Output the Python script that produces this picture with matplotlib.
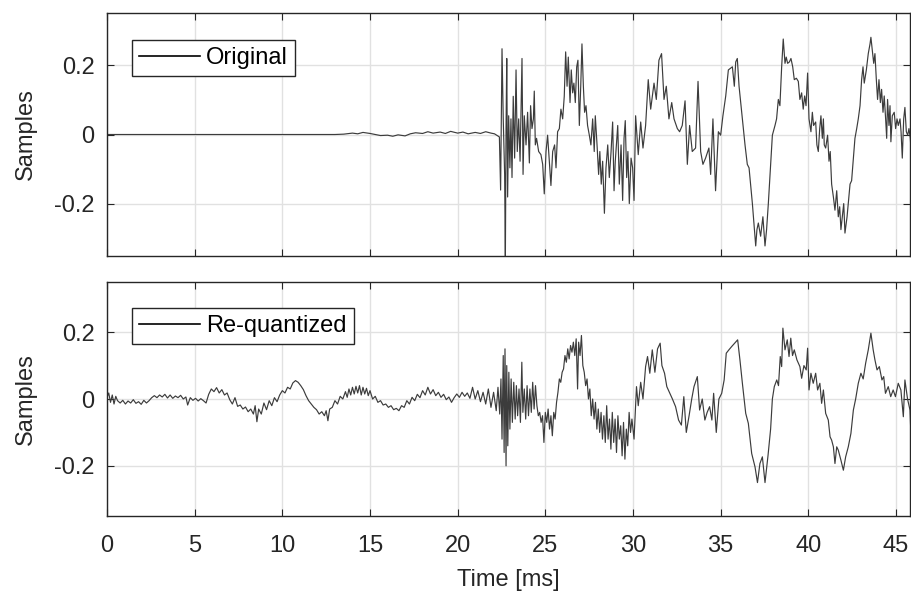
import numpy as np
import matplotlib
matplotlib.use("Agg")
import matplotlib.pyplot as plt

# ---------------- data ----------------
t_orig = [0.0, 13.0, 13.5, 14.0, 14.3, 14.6, 15.0, 15.3, 15.6, 16.0, 16.3, 16.6, 17.0, 17.3,
          17.6, 18.0, 18.3, 18.6, 19.0, 19.3, 19.6, 20.0, 20.3, 20.6, 21.0, 21.3, 21.6, 21.9,
          22.1, 22.38, 22.45, 22.53, 22.6, 22.68, 22.72, 22.76, 22.8, 22.85, 22.91, 22.98,
          23.04, 23.1, 23.17, 23.25, 23.33, 23.4, 23.48, 23.56, 23.67, 23.73, 23.8, 23.9,
          23.99, 24.09, 24.16, 24.24, 24.32, 24.37, 24.43, 24.5, 24.62, 24.75, 24.85, 24.94,
          25.04, 25.13, 25.23, 25.32, 25.42, 25.53, 25.61, 25.7, 25.8, 25.89, 25.99, 26.08,
          26.16, 26.24, 26.31, 26.41, 26.48, 26.56, 26.63, 26.71, 26.79, 26.86, 26.94, 27.02,
          27.09, 27.17, 27.24, 27.32, 27.41, 27.51, 27.6, 27.7, 27.79, 27.85, 27.95, 28.04,
          28.11, 28.19, 28.27, 28.37, 28.46, 28.56, 28.65, 28.75, 28.84, 28.92, 28.99, 29.13,
          29.22, 29.32, 29.41, 29.49, 29.56, 29.64, 29.71, 29.79, 29.89, 29.98,
          30.06, 30.15, 30.3, 30.44, 30.57, 30.72, 30.87, 31.01, 31.2, 31.33, 31.48, 31.63,
          31.77, 31.9, 32.05, 32.21, 32.34, 32.53, 32.66, 32.81, 32.97, 33.1, 33.23, 33.38,
          33.57, 33.71, 33.86, 33.99, 34.14, 34.33, 34.43, 34.56, 34.71, 34.87, 35.0, 35.13,
          35.29, 35.44, 35.67, 35.78, 35.86, 35.95, 36.05, 36.2, 36.39, 36.52, 36.62, 36.81,
          37.0, 37.07, 37.15, 37.28, 37.41, 37.53, 37.62, 37.72, 37.83, 37.95,
          38.1, 38.19, 38.29, 38.38, 38.48, 38.57, 38.67, 38.74, 38.82, 38.92, 39.01, 39.11,
          39.2, 39.32, 39.43, 39.52, 39.62, 39.71, 39.79, 39.87, 39.96, 40.04, 40.15, 40.23,
          40.3, 40.42, 40.49, 40.57, 40.65, 40.72, 40.8, 40.86, 40.91, 40.99, 41.1, 41.18,
          41.25, 41.33, 41.43, 41.52, 41.62, 41.71, 41.79, 41.86, 41.94, 42.02, 42.09, 42.21,
          42.38, 42.47, 42.57, 42.66, 42.76, 42.85, 42.95, 43.04, 43.12, 43.19, 43.31, 43.42,
          43.52, 43.57, 43.65, 43.73, 43.8, 43.88, 43.95, 44.03, 44.11, 44.18, 44.26, 44.33,
          44.41, 44.47, 44.52, 44.6, 44.66, 44.71, 44.79, 44.9, 44.98, 45.06, 45.13, 45.23,
          45.29, 45.36, 45.44, 45.51, 45.59, 45.67, 45.74, 45.82, 45.88, 45.93]
y_orig = [0.0, 0.0, 0.001, 0.004, 0.002, 0.006, 0.003, 0.0, -0.003, -0.002, -0.005, -0.001, -0.004, 0.002,
          0.005, 0.003, 0.008, 0.004, 0.007, 0.003, 0.009, 0.004, 0.007, 0.002, 0.006, 0.003, 0.008, 0.004,
          0.002, -0.007, -0.16, 0.247, 0.045, -0.115, -0.37, 0.017, 0.219, -0.18, 0.054, -0.096,
          0.045, -0.124, 0.11, -0.068, 0.186, -0.049, 0.045, -0.077, 0.219, -0.115, 0.054, -0.03,
          0.064, -0.082, 0.083, 0.017, 0.045, 0.125, -0.03, -0.011, -0.049, -0.058, -0.086, -0.171,
          -0.049, -0.002, -0.077, -0.147, -0.049, -0.03, -0.096, 0.008, 0.017, 0.073, 0.045, 0.11,
          0.238, 0.139, 0.223, 0.092, 0.186, 0.12, 0.148, 0.092, 0.195, 0.214, 0.026, 0.139,
          0.261, 0.139, 0.064, 0.083, 0.026, -0.002, -0.03, 0.045, -0.049, 0.054, -0.03, -0.115,
          -0.049, -0.143, -0.077, -0.227, -0.096, -0.03, -0.124, -0.049, 0.036, -0.162, -0.077, 0.026,
          -0.143, -0.03, -0.19, -0.011, 0.04, -0.124, -0.049, -0.199, -0.068, -0.096,
          -0.19, 0.054, -0.058, 0.036, -0.039, 0.026, 0.158, 0.073, 0.148, 0.101, 0.214, 0.233,
          0.101, 0.139, 0.045, 0.092, 0.045, 0.017, 0.008, 0.026, 0.097, -0.086, 0.026, -0.049,
          -0.039, 0.153, -0.049, -0.086, -0.068, -0.039, -0.115, 0.045, -0.162, 0.008, -0.002, 0.054,
          0.111, 0.186, 0.195, 0.139, 0.209, 0.219, 0.139, 0.064, -0.03, -0.086, -0.096, -0.199,
          -0.321, -0.274, -0.255, -0.293, -0.237, -0.321, -0.274, -0.199, -0.105, -0.002,
          0.026, 0.045, 0.101, 0.083, 0.195, 0.275, 0.205, 0.223, 0.205, 0.209, 0.219, 0.195,
          0.158, 0.162, 0.153, 0.101, 0.12, 0.073, 0.111, 0.083, 0.177, 0.045, 0.008, 0.064,
          0.026, 0.036, -0.03, -0.049, 0.017, 0.054, -0.011, 0.045, -0.03, -0.039, -0.002, -0.077,
          -0.049, -0.143, -0.18, -0.218, -0.162, -0.237, -0.208, -0.274, -0.237, -0.199, -0.284, -0.237,
          -0.143, -0.133, -0.068, -0.011, 0.017, 0.045, 0.083, 0.158, 0.195, 0.148, 0.186, 0.233,
          0.261, 0.28, 0.242, 0.205, 0.233, 0.158, 0.101, 0.158, 0.092, 0.13, 0.064, 0.111,
          0.045, -0.011, 0.101, 0.026, 0.083, -0.021, 0.054, 0.064, 0.017, 0.045, 0.026, 0.045,
          0.008, -0.068, 0.045, 0.078, 0.008, -0.002, 0.017, -0.011, -0.068, -0.105]

t_requant = [0.0, 0.1, 0.2, 0.3, 0.4, 0.5, 0.6, 0.75, 0.9, 1.05, 1.2, 1.35, 1.5, 1.65, 1.8, 1.95,
             2.1, 2.25, 2.4, 2.55, 2.7, 2.85, 3.0, 3.15, 3.3, 3.45, 3.6, 3.75, 3.9, 4.05, 4.2, 4.35,
             4.5, 4.6, 4.75, 4.9, 5.05, 5.2, 5.35, 5.5, 5.65, 5.8, 5.95, 6.1, 6.25, 6.4, 6.55, 6.7,
             6.85, 7.0, 7.15, 7.3, 7.45, 7.6, 7.75, 7.9, 8.05, 8.2, 8.35, 8.45, 8.55, 8.65, 8.8, 8.95,
             9.1, 9.25, 9.4, 9.55, 9.7, 9.85, 10.0, 10.15, 10.3, 10.45, 10.6, 10.75, 10.9, 11.05,
             11.2, 11.35, 11.5, 11.65, 11.8, 11.95, 12.1, 12.25, 12.4, 12.5, 12.6, 12.7, 12.85, 13.0,
             13.15, 13.3, 13.45, 13.6, 13.7, 13.8, 13.9, 14.0, 14.1, 14.2, 14.3, 14.4, 14.5, 14.6,
             14.7, 14.8, 14.9, 15.0, 15.15, 15.3, 15.45, 15.6, 15.75, 15.9, 16.05, 16.2, 16.35, 16.5,
             16.65, 16.8, 16.95, 17.1, 17.25, 17.4, 17.55, 17.7, 17.85, 18.0, 18.15, 18.3, 18.45,
             18.6, 18.75, 18.9, 19.05, 19.2, 19.35, 19.5, 19.65, 19.8, 19.95, 20.1, 20.25, 20.4,
             20.55, 20.7, 20.85, 21.0, 21.15, 21.3, 21.45, 21.6, 21.75, 21.9, 22.05, 22.2, 22.3,
             22.4, 22.47, 22.53, 22.6, 22.65, 22.7, 22.76, 22.8, 22.86, 22.92, 22.98, 23.05, 23.12,
             23.2, 23.28, 23.35, 23.42, 23.5, 23.58, 23.66, 23.72, 23.8, 23.88, 23.96, 24.04, 24.12,
             24.2, 24.28, 24.36, 24.44, 24.52, 24.6, 24.68, 24.76, 24.84, 24.92, 25.0, 25.08, 25.16,
             25.24, 25.32, 25.4, 25.48, 25.56, 25.64, 25.72, 25.8, 25.88, 25.96, 26.04, 26.12, 26.2,
             26.28, 26.36, 26.44, 26.52, 26.6, 26.68, 26.76, 26.84, 26.9, 26.98, 27.06, 27.14, 27.22,
             27.3, 27.38, 27.46, 27.54, 27.62, 27.7, 27.78, 27.86, 27.94, 28.02, 28.1, 28.18, 28.26,
             28.34, 28.42, 28.5, 28.58, 28.66, 28.74, 28.82, 28.9, 28.98, 29.06, 29.14, 29.22, 29.3,
             29.38, 29.46, 29.54, 29.62, 29.7, 29.78, 29.86, 29.94, 30.06,
             30.2, 30.3, 30.44, 30.57, 30.72, 30.83, 30.96, 31.1, 31.25, 31.4, 31.55, 31.65, 31.8,
             31.93, 32.1, 32.25, 32.43, 32.6, 32.76, 32.9, 33.04, 33.2, 33.35, 33.48, 33.67, 33.8,
             33.95, 34.1, 34.23, 34.37, 34.5, 34.6, 34.75, 34.9, 35.06, 35.2, 35.32, 35.47, 35.63,
             35.8, 35.97, 36.1, 36.24, 36.43, 36.58, 36.77, 36.96, 37.1, 37.24, 37.38, 37.53, 37.7,
             37.85, 37.95, 38.06, 38.2, 38.3, 38.4, 38.48, 38.55, 38.67, 38.8, 38.9, 39.0, 39.1,
             39.2, 39.35, 39.52, 39.62, 39.75, 39.88, 39.96, 40.04, 40.15, 40.28, 40.42, 40.53,
             40.66, 40.76, 40.86, 40.99, 41.14, 41.24, 41.33, 41.43, 41.52, 41.62, 41.71, 41.86,
             42.0, 42.13, 42.28, 42.43, 42.57, 42.7, 42.85, 43.0, 43.13, 43.27, 43.42, 43.57, 43.7,
             43.8, 43.92, 44.05, 44.2, 44.3, 44.4, 44.56, 44.7, 44.84, 44.97, 45.13, 45.28, 45.42,
             45.51, 45.66, 45.8, 45.88, 45.95]
y_requant = [0.005, 0.018, -0.01, 0.012, -0.015, 0.008, -0.005, -0.012, -0.004, -0.015, -0.006, -0.012,
             -0.002, -0.013, -0.008, -0.016, -0.004, -0.012, -0.005, 0.004, 0.01, 0.004, 0.012, 0.006,
             0.014, 0.003, 0.012, 0.002, 0.009, 0.004, 0.011, 0.0, 0.006, -0.018, 0.004, -0.004, 0.002,
             -0.006, 0.001, -0.005, -0.012, 0.014, 0.03, 0.022, 0.034, 0.018, 0.028, 0.012, 0.018,
             -0.002, -0.015, 0.004, -0.022, -0.018, -0.03, -0.024, -0.038, -0.03, -0.045, -0.02,
             -0.068, -0.03, -0.045, -0.012, -0.032, -0.005, -0.02, 0.004, -0.008, 0.012, 0.025, 0.018,
             0.035, 0.03, 0.048, 0.055, 0.05, 0.04, 0.028, 0.01, -0.005, -0.015, -0.025, -0.032,
             -0.045, -0.038, -0.05, -0.035, -0.065, -0.03, -0.025, -0.005, -0.015, 0.008, 0.0, 0.022,
             0.005, 0.03, 0.012, 0.035, 0.015, 0.038, 0.018, 0.04, 0.012, 0.035, 0.015, 0.032, 0.01,
             0.025, 0.0, 0.008, -0.01, -0.005, -0.018, -0.015, -0.025, -0.02, -0.032, -0.028, -0.035,
             -0.02, -0.025, -0.005, -0.015, 0.005, -0.005, 0.014, 0.004, 0.025, 0.012, 0.035, 0.015,
             0.028, 0.01, 0.02, 0.005, 0.014, -0.002, 0.006, -0.01, 0.004, 0.015, 0.005, 0.02, 0.008,
             0.018, 0.002, 0.035, 0.0, 0.025, -0.008, 0.02, -0.015, 0.03, -0.025, 0.02, -0.035, 0.035,
             -0.045, 0.06, -0.12, 0.13, -0.16, 0.15, -0.2, 0.1, -0.14, 0.08, -0.09, 0.06, -0.07,
             0.05, -0.06, 0.04, -0.05, 0.03, -0.07, 0.11, -0.04, 0.03, -0.06, 0.04, -0.05, 0.03,
             -0.04, 0.05, -0.03, 0.04, -0.02, -0.05, -0.04, -0.07, -0.05, -0.13, -0.04, -0.07, -0.03,
             -0.09, -0.05, -0.11, -0.04, -0.06, -0.01, 0.02, 0.06, 0.05, 0.08, 0.09, 0.13, 0.11,
             0.15, 0.12, 0.16, 0.14, 0.17, 0.13, 0.18, 0.03, 0.17, 0.13, 0.19, 0.1, 0.08,
             0.04, 0.06, 0.0, 0.03, -0.05, 0.0, -0.06, -0.01, -0.09, -0.03, -0.1, -0.04, -0.12,
             -0.05, -0.13, -0.02, -0.12, -0.06, -0.15, -0.04, -0.13, -0.06, -0.16, -0.05, -0.12, -0.08,
             -0.17, -0.07, -0.18, -0.09, -0.14, -0.04, -0.1, -0.06, -0.12,
             0.037, -0.02, 0.05, 0.0, 0.097, 0.127, 0.077, 0.147, 0.08, 0.15, 0.167, 0.1, 0.077,
             0.037, 0.017, 0.0, -0.023, -0.063, -0.078, 0.007, -0.1, -0.05, 0.0, 0.037, 0.067, -0.033,
             0.0, -0.063, -0.04, -0.023, -0.063, 0.017, -0.1, 0.0, 0.017, 0.057, 0.137, 0.147, 0.157,
             0.167, 0.177, 0.117, 0.047, -0.043, -0.073, -0.163, -0.203, -0.25, -0.193, -0.173, -0.25, -0.17,
             -0.09, 0.0, 0.037, 0.057, 0.04, 0.127, 0.097, 0.212, 0.147, 0.177, 0.127, 0.182, 0.13,
             0.147, 0.117, 0.097, 0.062, 0.1, 0.087, 0.152, 0.027, 0.077, 0.047, 0.077, 0.027,
             0.047, -0.013, 0.027, -0.043, -0.063, -0.113, -0.123, -0.143, -0.193, -0.143, -0.153, -0.183,
             -0.213, -0.173, -0.143, -0.103, -0.033, 0.0, 0.047, 0.077, 0.06, 0.107, 0.147, 0.197, 0.147,
             0.117, 0.087, 0.097, 0.057, 0.067, 0.017, 0.037, 0.007, 0.027, 0.007, 0.047, 0.027, -0.053,
             0.057, 0.0, -0.033, -0.143, -0.1]

x_ticks = [0, 5, 10, 15, 20, 25, 30, 35, 40, 45]
y_ticks = [-0.2, 0, 0.2]
y_tick_labels = ["-0.2", "0", "0.2"]
legend_labels = ["Original", "Re-quantized"]
x_label = "Time [ms]"
y_label = "Samples"

# ---------------- style ----------------
plt.rcParams["font.family"] = ["Liberation Sans", "DejaVu Sans"]
plt.rcParams["font.size"] = 17
TXT = "#262626"

fig = plt.figure(figsize=(9.11, 6.01), dpi=100)
W, H = 911, 601
ax1 = fig.add_axes([107 / W, (H - 256) / H, 803 / W, 243 / H])
ax2 = fig.add_axes([107 / W, (H - 516) / H, 803 / W, 234 / H])

series = [(ax1, t_orig, y_orig, legend_labels[0]), (ax2, t_requant, y_requant, legend_labels[1])]
for ax, t, y, lab in series:
    ax.plot(t, y, color="#3c3c3c", lw=0.85, label=lab)
    ax.set_xlim(0, 45.8)
    ax.set_ylim(-0.35, 0.35)
    ax.set_xticks(x_ticks)
    ax.set_yticks(y_ticks)
    ax.set_yticklabels(y_tick_labels)
    ax.grid(True, color="#e1e1e1", lw=1.0)
    ax.set_axisbelow(True)
    ax.tick_params(direction="in", top=True, right=True, length=5, width=0.8,
                   color=TXT, labelcolor=TXT)
    ax.tick_params(axis="y", pad=9)
    ax.tick_params(axis="x", pad=14)
    for s in ax.spines.values():
        s.set_color(TXT)
        s.set_linewidth(1.0)
    ax.set_ylabel(y_label, color=TXT, labelpad=12)
    leg = ax.legend(loc="upper left", bbox_to_anchor=(0.031, 0.89), borderaxespad=0,
                    fancybox=False, edgecolor=TXT, framealpha=1, handlelength=2.6,
                    handletextpad=0.25, borderpad=0.3, fontsize=17)
    for h in leg.legend_handles:
        h.set_color("k")
        h.set_linewidth(1.2)
    leg.get_frame().set_linewidth(1.0)

ax1.tick_params(labelbottom=False)
ax2.set_xlabel(x_label, color=TXT, labelpad=8)

fig.savefig("out.png", dpi=100)
